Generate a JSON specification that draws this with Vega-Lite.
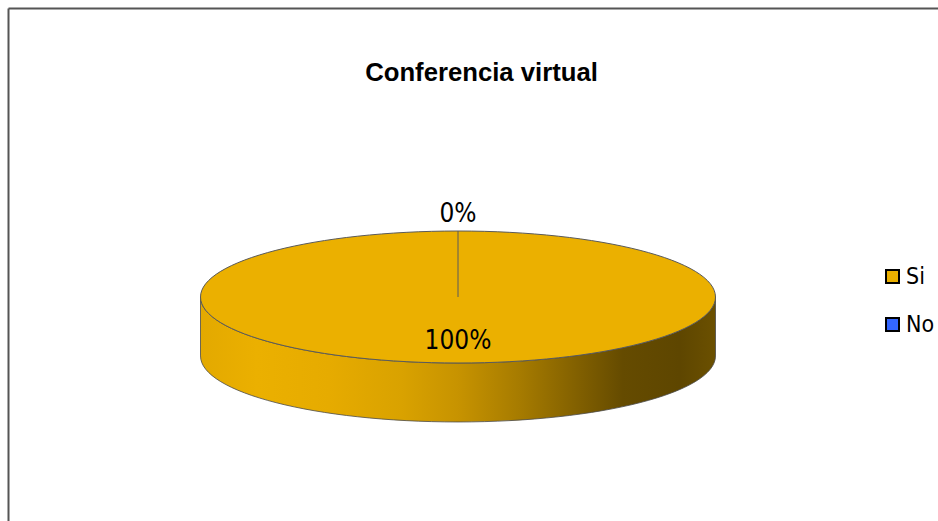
{
  "$schema": "https://vega.github.io/schema/vega-lite/v6.json",
  "autosize": "none",
  "width": 930,
  "height": 513,
  "padding": {"left": 8, "top": 8, "right": 0, "bottom": 0},
  "background": "white",
  "title": {
    "text": "Conferencia virtual",
    "font": "Liberation Sans",
    "fontSize": 25.7,
    "fontWeight": "bold",
    "color": "#000000",
    "anchor": "middle",
    "frame": "group",
    "baseline": "alphabetic",
    "offset": -99,
    "dx": 8.5
  },
  "config": {
    "view": {"stroke": null},
    "axis": {
      "domain": true,
      "domainColor": "#555555",
      "domainWidth": 2,
      "ticks": false,
      "labels": false,
      "grid": false,
      "title": null
    }
  },
  "data": {
    "values": [
      {"respuesta": "Si", "porcentaje": 1.0},
      {"respuesta": "No", "porcentaje": 0.0}
    ]
  },
  "encoding": {
    "x": {
      "datum": 0,
      "type": "quantitative",
      "scale": {"domain": [-450, 480], "nice": false, "zero": false},
      "axis": {"orient": "top"}
    },
    "y": {
      "datum": 0,
      "type": "quantitative",
      "scale": {"domain": [-224, 289], "nice": false, "zero": false},
      "axis": {"orient": "left"}
    }
  },
  "layer": [
    {
      "transform": [{"filter": "datum.porcentaje > 0"}],
      "mark": {
        "type": "point",
        "shape": "M -1 0 L -1 0.229 A 1 0.2563 0 0 0 1 0.229 L 1 0 A 1 0.2563 0 0 1 -1 0 Z",
        "filled": true,
        "opacity": 1,
        "stroke": "#4a4a4a",
        "strokeWidth": 0.8,
        "fill": {
          "gradient": "linear",
          "x1": 0, "y1": 0, "x2": 1, "y2": 0,
          "stops": [
            {"offset": 0, "color": "#E3A900"},
            {"offset": 0.11, "color": "#EBB000"},
            {"offset": 0.25, "color": "#E6AB00"},
            {"offset": 0.39, "color": "#D9A200"},
            {"offset": 0.5, "color": "#C79300"},
            {"offset": 0.62, "color": "#A67B00"},
            {"offset": 0.74, "color": "#7F5E00"},
            {"offset": 0.82, "color": "#654B00"},
            {"offset": 0.93, "color": "#5E4600"},
            {"offset": 1, "color": "#6B5000"}
          ]
        }
      },
      "encoding": {
        "size": {
          "field": "porcentaje",
          "type": "quantitative",
          "scale": {"domain": [0, 1], "range": [0, 265225]},
          "legend": null
        }
      }
    },
    {
      "transform": [{"filter": "datum.porcentaje > 0"}],
      "mark": {
        "type": "point",
        "shape": "M -1 0 A 1 0.2563 0 1 1 1 0 A 1 0.2563 0 1 1 -1 0 Z M 0 0 L 0 -0.2563",
        "filled": true,
        "opacity": 1,
        "stroke": "#5a5a5a",
        "strokeWidth": 1
      },
      "encoding": {
        "size": {
          "field": "porcentaje",
          "type": "quantitative",
          "scale": {"domain": [0, 1], "range": [0, 265225]},
          "legend": null
        },
        "color": {
          "field": "respuesta",
          "type": "nominal",
          "scale": {"domain": ["Si", "No"], "range": ["#EBB000", "#3366FF"]},
          "legend": {
            "orient": "none",
            "legendX": 873,
            "legendY": 257,
            "title": null,
            "symbolType": "square",
            "symbolSize": 169,
            "symbolStrokeColor": "#000000",
            "symbolStrokeWidth": 2,
            "symbolOpacity": 1,
            "labelFont": "DejaVu Sans Condensed",
            "labelFontSize": 23,
            "labelColor": "#000000",
            "labelOffset": 2,
            "rowPadding": 24
          }
        }
      }
    },
    {
      "transform": [{"filter": "datum.respuesta == 'No'"}],
      "mark": {
        "type": "text",
        "font": "DejaVu Sans Condensed",
        "fontSize": 26,
        "color": "#000000",
        "align": "center",
        "baseline": "alphabetic",
        "dy": -75
      },
      "encoding": {
        "text": {"field": "porcentaje", "type": "quantitative", "format": ".0%"}
      }
    },
    {
      "transform": [{"filter": "datum.respuesta == 'Si'"}],
      "mark": {
        "type": "text",
        "font": "DejaVu Sans Condensed",
        "fontSize": 26,
        "color": "#000000",
        "align": "center",
        "baseline": "alphabetic",
        "dy": 52
      },
      "encoding": {
        "text": {"field": "porcentaje", "type": "quantitative", "format": ".0%"}
      }
    }
  ]
}
